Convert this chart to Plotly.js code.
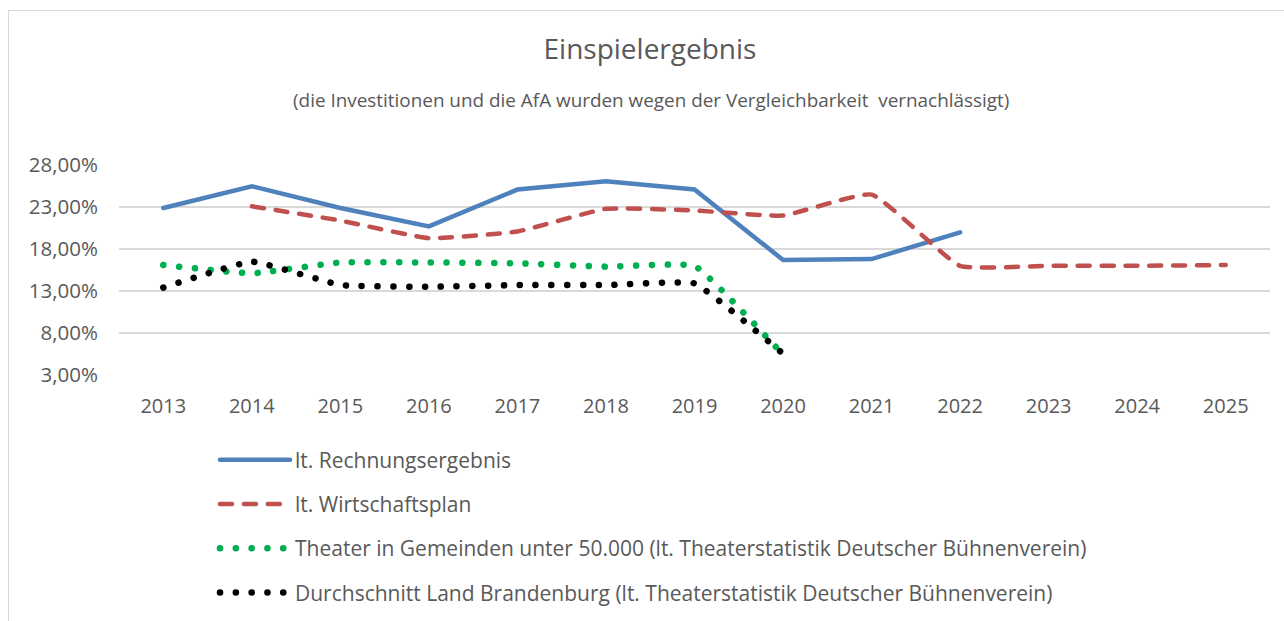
<!DOCTYPE html>
<html><head><meta charset="utf-8">
<script src="https://cdn.plot.ly/plotly-3.0.1.min.js"></script>
<style>
html,body{margin:0;padding:0;background:#fff;overflow:hidden;}
#frame{position:absolute;left:8px;top:10px;width:1320px;height:720px;border:1px solid #d9d9d9;box-sizing:border-box;}
#chart{position:absolute;left:0;top:0;width:1284px;height:621px;}
#chart .js-line{stroke-linecap:round !important;}
</style></head>
<body><div id="frame"></div><div id="chart"></div>
<script>
const years = [2013, 2014, 2015, 2016, 2017, 2018, 2019, 2020, 2021, 2022, 2023, 2024, 2025];
const rechnungsergebnis = [22.9, 25.5, 22.9, 20.7, 25.1, 26.1, 25.1, 16.7, 16.8, 20.0, null, null, null];
const wirtschaftsplan   = [null, 23.1, 21.4, 19.3, 20.1, 22.8, 22.6, 22.0, 24.5, 16.0, 16.0, 16.0, 16.1];
const theaterUnter50000 = [16.1, 15.1, 16.4, 16.4, 16.3, 15.9, 16.0, 5.4, null, null, null, null, null];
const brandenburg       = [13.4, 16.5, 13.7, 13.5, 13.7, 13.7, 13.9, 5.5, null, null, null, null, null];
const seriesNames = [
  "lt. Rechnungsergebnis",
  "lt. Wirtschaftsplan",
  "Theater in Gemeinden unter 50.000 (lt. Theaterstatistik Deutscher Bühnenverein)",
  "Durchschnitt Land Brandenburg (lt. Theaterstatistik Deutscher Bühnenverein)"
];
const yTicks = [3, 8, 13, 18, 23, 28];
const yTickText = ["3,00%", "8,00%", "13,00%", "18,00%", "23,00%", "28,00%"];

const FONT = "'Open Sans', Lato, sans-serif";
const GREY = "#595959";

const traces = [
  {x: years, y: rechnungsergebnis, name: seriesNames[0], legendgroup: "a", type: "scatter", mode: "lines",
   line: {color: "#4f81bd", width: 4.5}},
  {x: years, y: wirtschaftsplan, name: seriesNames[1], legendgroup: "b", type: "scatter", mode: "lines",
   line: {color: "#c0504d", width: 4.5, dash: "12px,11.9px", shape: "spline", smoothing: 0.4}},
  {x: years, y: theaterUnter50000, name: seriesNames[2], legendgroup: "c", type: "scatter", mode: "lines",
   line: {color: "#00b050", width: 6.5, dash: "0.1px,15.7px", shape: "spline", smoothing: 0.3}},
  {x: years, y: brandenburg, name: seriesNames[3], legendgroup: "d", type: "scatter", mode: "lines",
   line: {color: "#000000", width: 6.5, dash: "0.1px,15.7px", shape: "spline", smoothing: 0.3}}
];

const layout = {
  width: 1284, height: 621,
  margin: {l: 119, r: 14, t: 165, b: 246, pad: 0, autoexpand: false},
  paper_bgcolor: "rgba(0,0,0,0)", plot_bgcolor: "rgba(0,0,0,0)",
  font: {family: FONT, color: GREY, size: 20},
  title: {text: "Einspielergebnis", font: {family: FONT, size: 28, color: GREY},
          xref: "container", yref: "container", x: 650/1284, xanchor: "center", y: 1 - 49/621, yanchor: "middle"},
  annotations: [{
    text: "(die Investitionen und die AfA wurden wegen der Vergleichbarkeit  vernachlässigt)",
    xref: "paper", yref: "paper", x: (651 - 119)/1151, y: (375 - 100)/210, xanchor: "center", yanchor: "middle",
    showarrow: false, font: {family: FONT, size: 18.9, color: GREY}
  }],
  xaxis: {range: [2012.5, 2025.5], tickvals: years, showgrid: false, zeroline: false, showline: false, automargin: false,
          ticks: "", ticklabelstandoff: 17, tickfont: {family: FONT, size: 20, color: GREY}, fixedrange: true},
  yaxis: {range: [2.97, 28.03], tickvals: yTicks, ticktext: yTickText, showgrid: true, gridcolor: "#d9d9d9", gridwidth: 1.5,
          zeroline: false, showline: false, automargin: false, ticks: "", ticklabelstandoff: 20,
          tickfont: {family: FONT, size: 20.5, color: GREY}, fixedrange: true},
  showlegend: true,
  legend: {x: (215 - 119)/1151, xanchor: "left", y: (375 - 439.5)/210, yanchor: "top",
           orientation: "v", traceorder: "grouped", tracegroupgap: 14, itemwidth: 70,
           font: {family: FONT, size: 21, color: GREY}, bgcolor: "rgba(0,0,0,0)"}
};

Plotly.newPlot("chart", traces, layout, {displayModeBar: false, staticPlot: true});
</script>
</body></html>
